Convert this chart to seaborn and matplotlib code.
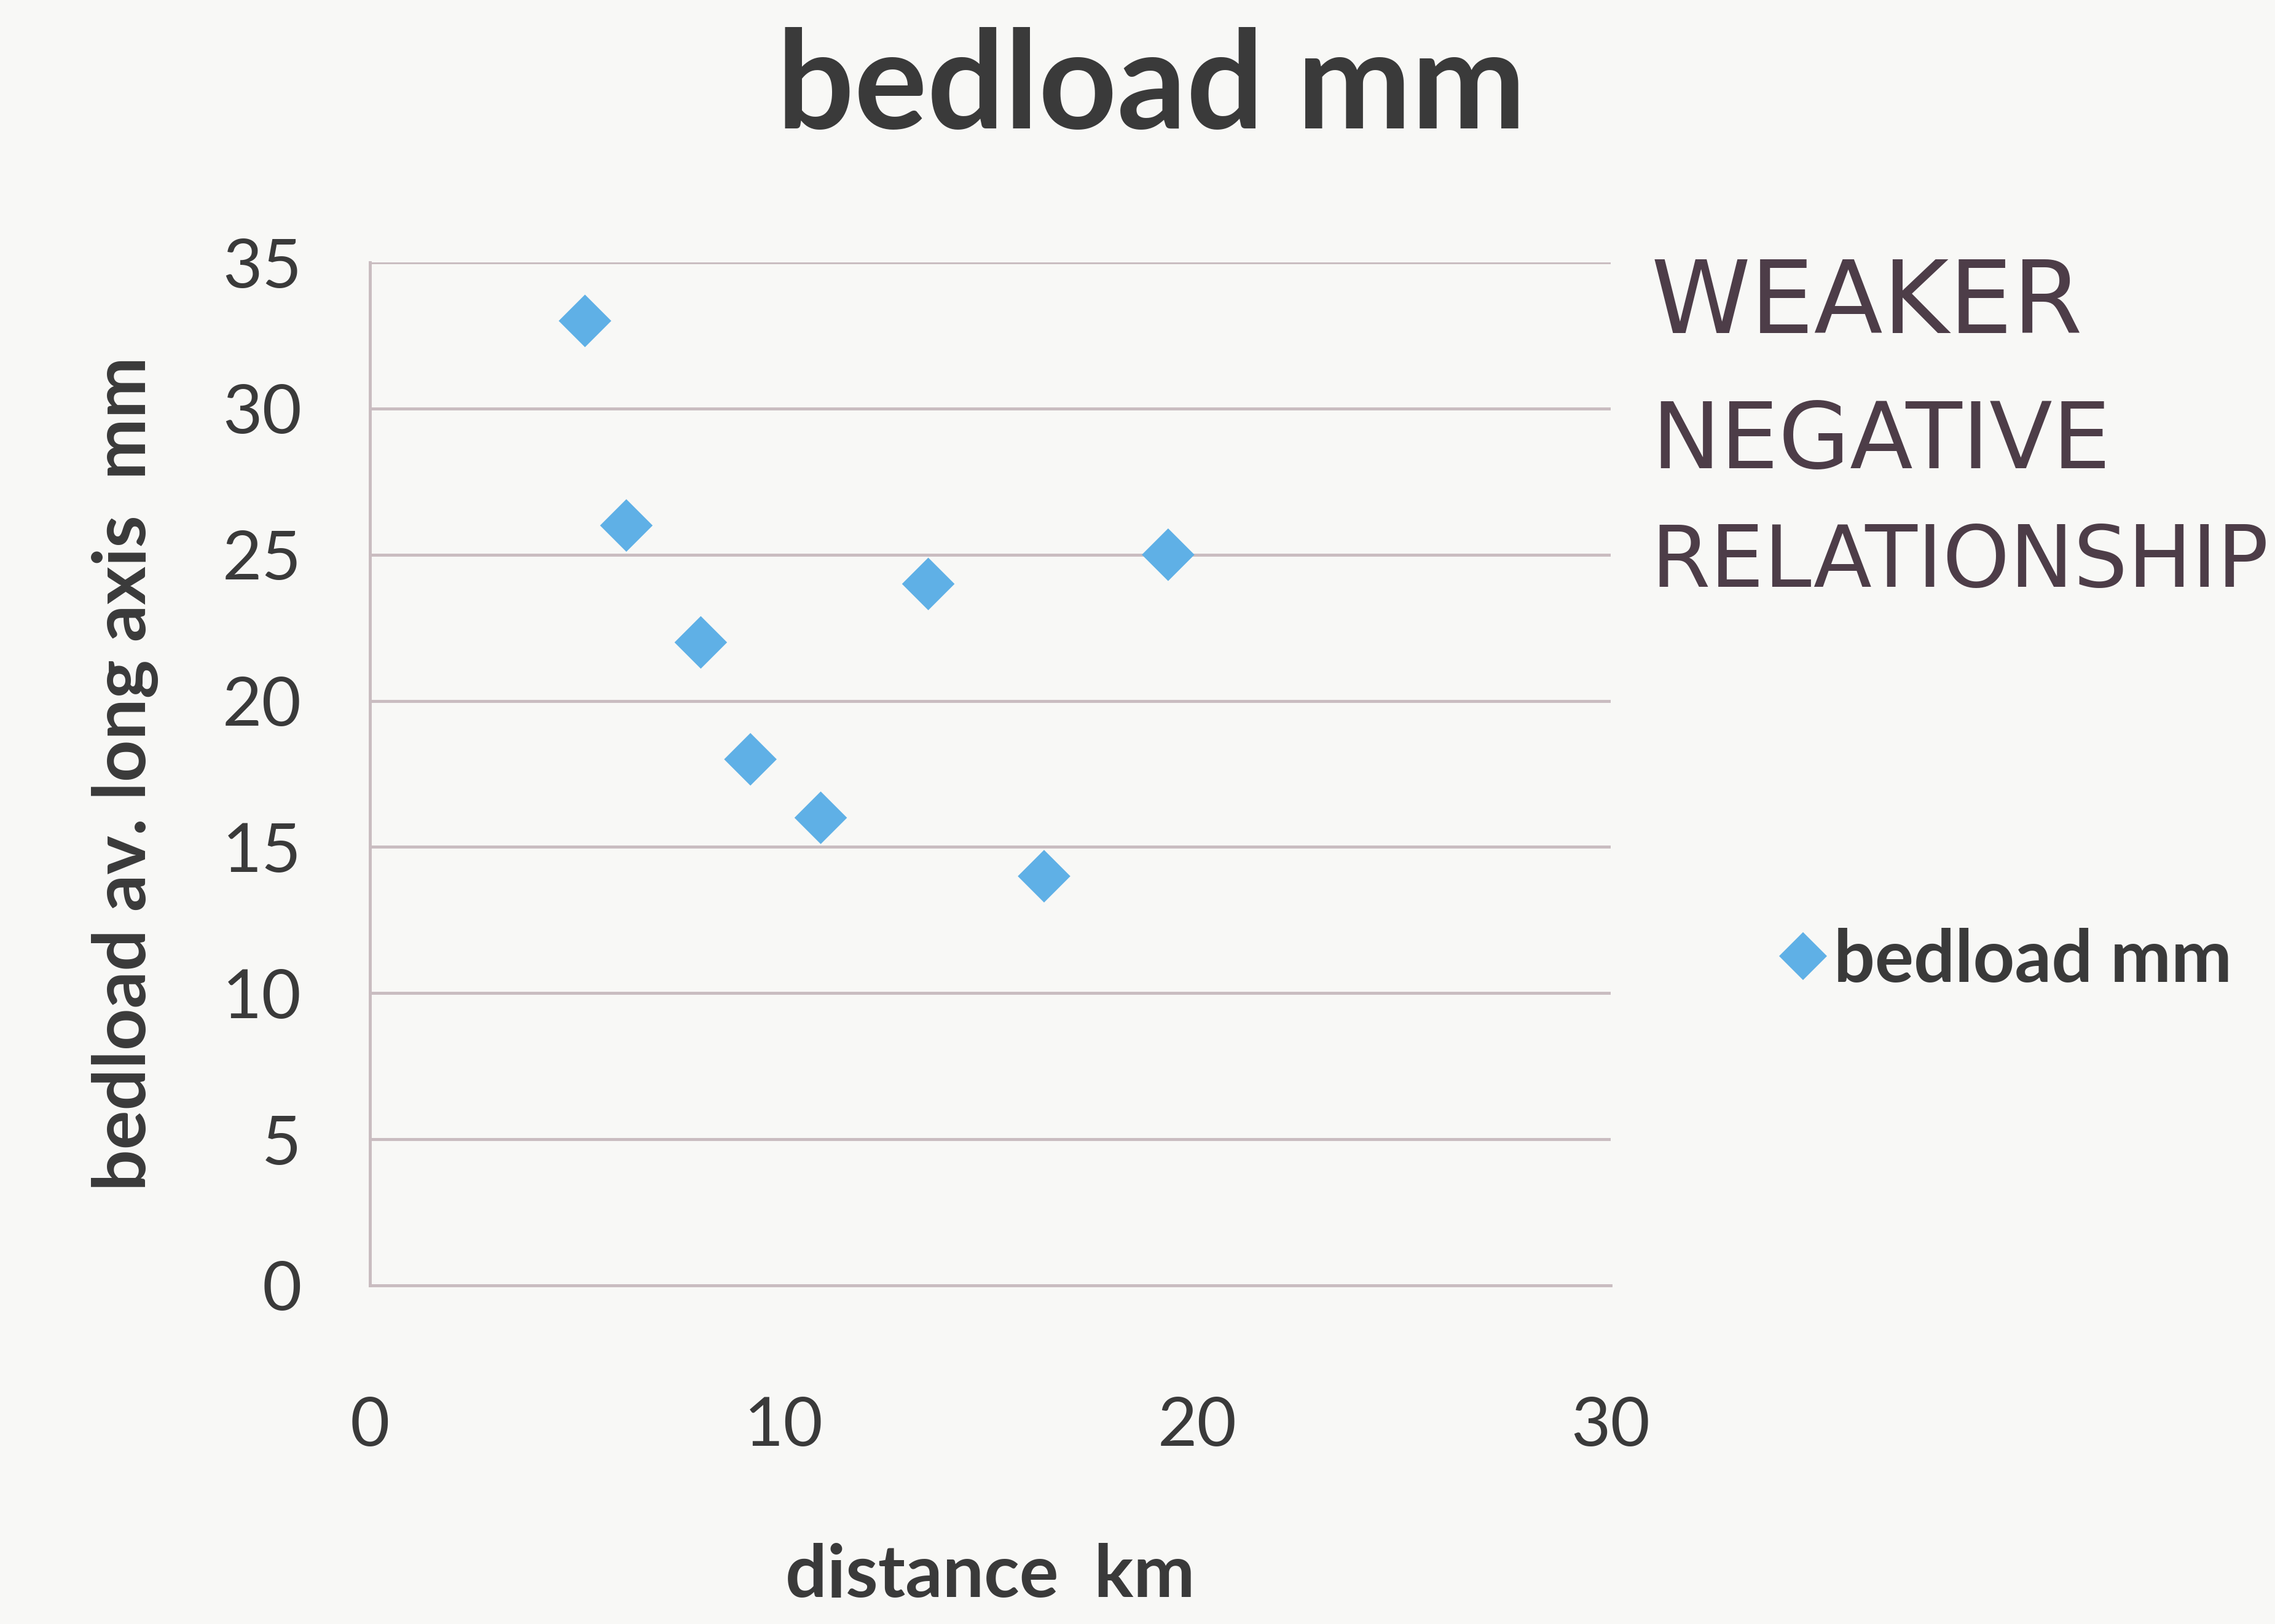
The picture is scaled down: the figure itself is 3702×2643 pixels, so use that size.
import matplotlib
matplotlib.use("Agg")
import matplotlib.pyplot as plt
import seaborn as sns
import pandas as pd

# ---- data ----
distance_km = [5.2, 6.2, 8.0, 9.2, 10.9, 13.5, 16.3, 19.3]
bedload_mm = [33.0, 26.0, 22.0, 18.0, 16.0, 24.0, 14.0, 25.0]
series_name = "bedload mm"
x_ticks = [0, 10, 20, 30]
y_ticks = [0, 5, 10, 15, 20, 25, 30, 35]
note_lines = ["WEAKER", "NEGATIVE", "RELATIONSHIP"]

df = pd.DataFrame({"distance": distance_km, "bedload": bedload_mm, "series": series_name})

sns.set_theme(style="white")
plt.rcParams["font.family"] = ["Lato", "DejaVu Sans"]

bg = "#f8f8f6"
fig = plt.figure(figsize=(37.02, 26.43), dpi=100, facecolor=bg)
ax = fig.add_axes([0.1626, 0.2085, 0.708 - 0.1626, 0.8384 - 0.2085])
ax.set_facecolor(bg)

sns.scatterplot(data=df, x="distance", y="bedload", hue="series", palette=["#5fb0e6"],
                marker="D", s=1900, linewidth=0, ax=ax, zorder=3)

ax.set_xlim(0, 30)
ax.set_ylim(0, 35)
ax.set_xticks(x_ticks)
ax.set_yticks(y_ticks)
ax.yaxis.grid(True, color="#c9bcc0", linewidth=3.5)
ax.xaxis.grid(False)
for side in ["top", "right"]:
    ax.spines[side].set_visible(False)
for side in ["left", "bottom"]:
    ax.spines[side].set_color("#c9bcc0")
    ax.spines[side].set_linewidth(3.5)
ax.tick_params(axis="y", length=0, pad=80, labelsize=80, labelcolor="#3a3a3a")
ax.tick_params(axis="x", length=0, pad=130, labelsize=80, labelcolor="#3a3a3a")

ax.set_xlabel("distance  km", fontsize=86, fontweight="bold", color="#3a3a3a", labelpad=100)
ax.set_ylabel("bedload av. long axis  mm", fontsize=86, fontweight="bold", color="#3a3a3a", labelpad=75)

fig.text(0.506, 0.945, "bedload mm", ha="center", va="center", fontsize=160,
         fontweight="bold", color="#3a3a3a")

# legend
ax.legend_.remove()
handles, labels = ax.get_legend_handles_labels()
leg = fig.legend(handles, [series_name], loc="center left",
                 bbox_to_anchor=(1224 / 1568, 1 - 662 / 1119), frameon=False,
                 fontsize=85, handletextpad=0.05, handlelength=0.75, markerscale=0.9,
                 borderpad=0, borderaxespad=0)
for t in leg.get_texts():
    t.set_color("#3a3a3a")
    t.set_fontweight("bold")

# handwritten note
ys = [210, 305, 388]
sizes = [118, 108, 100]
for line, y, fs in zip(note_lines, ys, sizes):
    fig.text(1138 / 1568, 1 - y / 1119, line, ha="left", va="center", fontsize=fs,
             color="#4d3d48", family=["DejaVu Sans"])

fig.savefig("out.png", dpi=100, facecolor=bg)
